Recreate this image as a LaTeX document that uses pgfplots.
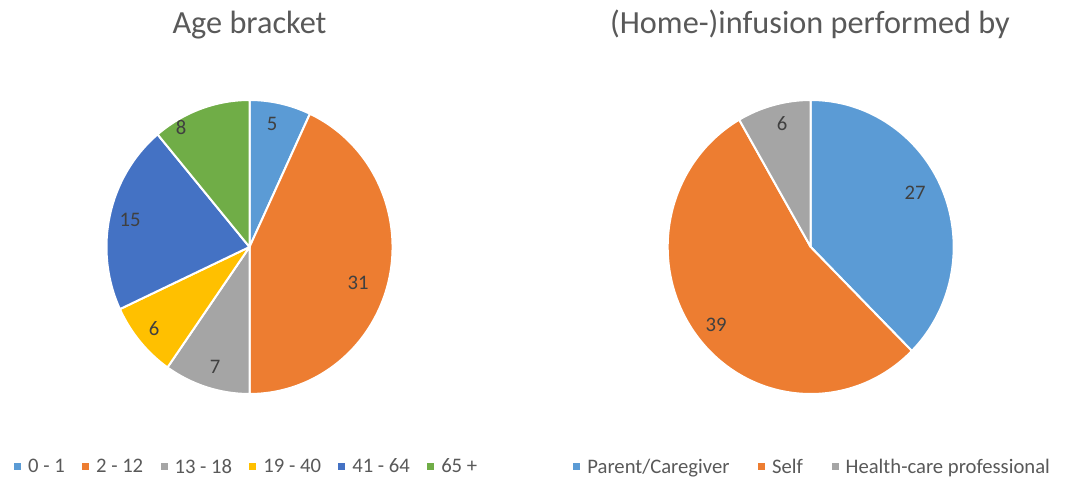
\documentclass[border=0pt]{standalone}
\usepackage{fontspec}
\setmainfont{Carlito}
\usepackage{pgfplots}
\pgfplotsset{compat=1.18}
\definecolor{c1}{HTML}{5B9BD5}
\definecolor{c2}{HTML}{ED7D31}
\definecolor{c3}{HTML}{A5A5A5}
\definecolor{c4}{HTML}{FFC000}
\definecolor{c5}{HTML}{4472C4}
\definecolor{c6}{HTML}{70AD47}
\definecolor{titlegray}{HTML}{595959}
\definecolor{labgray}{HTML}{404040}
% center x, center y, cumulative start, value, colour  (72 respondents -> 5 degrees each)
\newcommand{\slice}[5]{%
  \fill[#5, draw=white, line width=1.5pt, line join=round] (axis cs:#1,#2) -- ++({90-5*#3}:107.25pt and 110.25pt)
    arc[start angle={90-5*#3}, delta angle={-5*#4}, x radius=107.25pt, y radius=110.25pt] -- cycle;}
\tikzset{
  lab/.style={font=\fontsize{15.5}{18}\selectfont, text=labgray},
  ttl/.style={anchor=base, font=\fontsize{24.2}{28}\selectfont, text=titlegray},
}
\pgfplotsset{
  pie/.style={x=0.75pt, y=0.75pt, ymin=0, ymax=483, hide axis, clip=false,
    legend image code/.code={\path[use as bounding box, draw=none, fill=none] (0pt,-2.6pt) rectangle (8.5pt,2.65pt);
      \fill[##1, draw=none] (0pt,-2.6pt) rectangle (5.25pt,2.65pt);},
    legend style={draw=none, fill=none, legend columns=-1, anchor=center,
      font=\fontsize{15.5}{18}\selectfont, text=titlegray,
      nodes={inner sep=2pt}},
  },
}
\begin{document}
\begin{tikzpicture}
\path (0,0) rectangle (798.75pt,362.25pt);
\begin{axis}[pie, xmin=0, xmax=532.5, at={(0pt,0pt)}, anchor=origin,
  legend style={at={(axis cs:247,16)}, /tikz/every even column/.append style={column sep=11pt}}]
\addlegendimage{fill=c1}
\addlegendimage{fill=c2}
\addlegendimage{fill=c3}
\addlegendimage{fill=c4}
\addlegendimage{fill=c5}
\addlegendimage{fill=c6}
\legend{0 - 1, 2 - 12, 13 - 18, 19 - 40, 41 - 64, 65 +}
\slice{249.5}{236}{0}{5}{c1}
\slice{249.5}{236}{5}{31}{c2}
\slice{249.5}{236}{36}{7}{c3}
\slice{249.5}{236}{43}{6}{c4}
\slice{249.5}{236}{49}{15}{c5}
\slice{249.5}{236}{64}{8}{c6}
\node[lab] at (axis cs:272,359) {5};
\node[lab] at (axis cs:358,200) {31};
\node[lab] at (axis cs:215,116) {7};
\node[lab] at (axis cs:154,154) {6};
\node[lab] at (axis cs:130,263) {15};
\node[lab] at (axis cs:181,355) {8};
\node[ttl] at (axis cs:249.5,449) {Age bracket};
\end{axis}
\begin{axis}[pie, xmin=532.5, xmax=1065, at={(399.375pt,0pt)}, anchor=origin,
  legend style={at={(axis cs:813,16)}, /tikz/every even column/.append style={column sep=19.5pt}}]
\addlegendimage{fill=c1}
\addlegendimage{fill=c2}
\addlegendimage{fill=c3}
\legend{Parent/Caregiver, Self, Health-care professional}
\slice{810.7}{236}{0}{27}{c1}
\slice{810.7}{236}{27}{39}{c2}
\slice{810.7}{236}{66}{6}{c3}
\node[lab] at (axis cs:915,290) {27};
\node[lab] at (axis cs:716,158) {39};
\node[lab] at (axis cs:782,359) {6};
\node[ttl] at (axis cs:810,449) {(Home-)infusion performed by};
\end{axis}
\end{tikzpicture}
\end{document}
